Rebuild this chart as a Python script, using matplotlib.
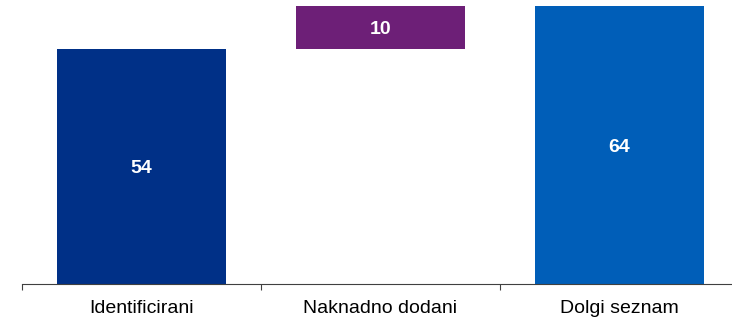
import matplotlib.pyplot as plt

kategorije = ["Identificirani", "Naknadno dodani", "Dolgi seznam"]
vrednosti = [54, 10, 64]
dno = [0, 54, 0]  # začetek stolpca (slap)
barve = ["#003087", "#6d1f77", "#005eb8"]

plt.rcParams['font.family'] = ['Liberation Sans', 'DejaVu Sans']

fig = plt.figure(figsize=(7.32, 3.2), dpi=100)
ax = fig.add_axes([22/732, 36/320, 717/732, 278/320])

x = range(len(kategorije))
ax.bar(x, vrednosti, bottom=dno, width=0.71, color=barve)
for i in x:
    ax.text(i, dno[i] + vrednosti[i]/2, str(vrednosti[i]), ha="center", va="center_baseline",
            color="white", fontsize=14, fontweight="bold")

ax.set_xlim(-0.5, 2.5)
ax.set_ylim(0, 64)
ax.set_xticks([-0.5, 0.5, 1.5, 2.5])
ax.set_xticklabels([])
ax.set_xticks(list(x), kategorije, minor=True)
ax.tick_params(axis="x", which="major", length=4, width=0.8, color="#404040")
ax.tick_params(axis="x", which="minor", length=0, labelsize=14, pad=11.5)
ax.set_yticks([])
for s in ["top", "right", "left"]:
    ax.spines[s].set_visible(False)
ax.spines["bottom"].set_color("#404040")
ax.spines["bottom"].set_linewidth(0.8)

plt.savefig("out.png", dpi=100)
